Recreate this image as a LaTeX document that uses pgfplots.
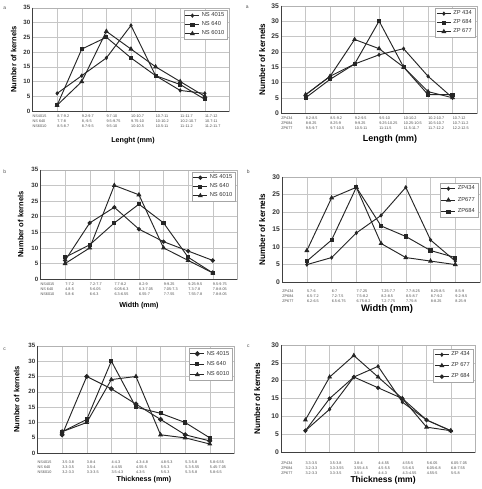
\documentclass[border=0pt]{standalone}
\usepackage{fontspec}
\setmainfont{Liberation Sans}
\usepackage{pgfplots}
\pgfplotsset{compat=1.18}
\definecolor{ln}{HTML}{262626}
\pgfplotsset{
  panel/.style={
    scale only axis, xmin=-1, xmax=7, ymin=0,
    xtick={-1,0,...,6}, ytick distance=5,
    grid=major, grid style={gray!45, line width=0.35pt},
    axis line style={gray!60, line width=0.4pt},
    major tick length=0pt,
    /pgf/number format/assume math mode=true,
    yticklabel style={font=\bfseries\fontsize{6.2}{7}\selectfont, text=black!80, inner xsep=2pt},
    xticklabel style={font=\fontsize{3.8}{4.9}\selectfont, align=left, anchor=north west, inner sep=0pt, yshift=-3.5pt, text=black!70},
    ylabel style={font=\bfseries\fontsize{7.6}{9}\selectfont, anchor=center},
    xlabel style={font=\bfseries\fontsize{7.2}{9}\selectfont, anchor=center},
    ylabel={Number of kernels},
    legend style={at={(1,1)}, anchor=north east, xshift=-2pt, yshift=-2pt, draw=gray!70,
      font=\fontsize{5.8}{6.5}\selectfont, text=black!80, inner sep=1pt, row sep=-0.5pt, line width=0.4pt},
    legend cell align=left,
    legend image code/.code={\draw[mark repeat=2,mark phase=2,##1] plot coordinates {(0pt,0pt)(7pt,0pt)(14pt,0pt)};},
    every axis plot/.append style={color=ln, line width=0.95pt, mark options={solid, fill=ln}},
    after end axis/.code={\draw[black!75, line width=0.6pt] (rel axis cs:0,1) -- (rel axis cs:0,0) -- (rel axis cs:1,0);},
  },
  rp/.style={yticklabel style={font=\bfseries\fontsize{6.8}{7}\selectfont}},
  m1/.style={mark=diamond*, mark size=1.5pt},
  msq/.style={mark=square*, mark size=1.6pt},
  mtr/.style={mark=triangle*, mark size=2pt},
  mci/.style={mark=*, mark size=1.7pt},
}
\begin{document}
\begin{tikzpicture}
\path (0pt,0pt) rectangle (483pt,489pt);
\node[font=\fontsize{5}{6}\selectfont, text=black!70] at (4pt,484pt) {a};
\node[font=\fontsize{5}{6}\selectfont, text=black!70] at (248pt,485pt) {a};
\node[font=\fontsize{5}{6}\selectfont, text=black!70] at (4pt,319pt) {b};
\node[font=\fontsize{5}{6}\selectfont, text=black!70] at (249pt,319pt) {b};
\node[font=\fontsize{5}{6}\selectfont, text=black!70] at (4pt,141pt) {c};
\node[font=\fontsize{5}{6}\selectfont, text=black!70] at (249pt,144pt) {c};

% Panel 1
\begin{axis}[panel, at={(32pt,380pt)}, anchor=south west, width=198pt, height=104pt, ymax=35,
  xlabel={Lenght (mm)},
  xlabel style={at={([xshift=2pt,yshift=-30pt]axis description cs:0.5,0)}},
  ylabel style={at={([xshift=-19pt]axis description cs:0,0.5)}},
  xticklabels={{NS4015\\NS 640\\NS6010},{8.7-9.2\\7.7-8\\8.5-8.7},{9.2-9.7\\8,-9.5\\8.7-9.5},{9.7-10\\9.5-9.75\\9.5-10},{10-10.7\\9.75-10\\10-10.5},{10.7-11\\10-10.2\\10.5-11},{11-11.7\\10.2-10.7\\11-11.2},{11.7-12\\10.7-11\\11.2-11.7}}]
\addplot[m1] coordinates {(0,6)(1,12)(2,18)(3,29)(4,12)(5,7)(6,6)};
\addplot[msq] coordinates {(0,2)(1,21)(2,25)(3,18)(4,12)(5,9)(6,4)};
\addplot[mtr] coordinates {(0,2)(1,10)(2,27)(3,21)(4,15)(5,10)(6,5)};
\legend{NS 4015,NS 640,NS 6010}
\end{axis}

% Panel 2
\begin{axis}[panel, rp, at={(282pt,378pt)}, anchor=south west, width=197pt, height=108pt, ymax=35,
  xlabel={Length (mm)},
  xlabel style={font=\bfseries\fontsize{9}{10}\selectfont, at={([xshift=11pt,yshift=-26pt]axis description cs:0.5,0)}},
  ylabel style={font=\bfseries\fontsize{8.2}{9}\selectfont, at={([xshift=-19pt]axis description cs:0,0.5)}},
  xticklabels={{ZP434\\ZP684\\ZP677},{8.2-8.5\\8-8.25\\9.5-9.7},{8.5-9.2\\8.25-9\\9.7-10.5},{9.2-9.5\\9-9.25\\10.5-11},{9.5-10\\9.25-10.25\\11-11.5},{10-10.2\\10.25-10.5\\11.5-11.7},{10.2-10.7\\10.5-10.7\\11.7-12.2},{10.7-12\\10.7-11.2\\12.2-12.5}}]
\addplot[m1] coordinates {(0,6)(1,12)(2,16)(3,19)(4,21)(5,12)(6,5)};
\addplot[msq] coordinates {(0,5)(1,11)(2,16)(3,30)(4,15)(5,6)(6,6)};
\addplot[mtr] coordinates {(0,6)(1,12)(2,24)(3,21)(4,15)(5,7)(6,5)};
\legend{ZP 434,ZP 684,ZP 677}
\end{axis}

% Panel 3
\begin{axis}[panel, at={(40pt,211pt)}, anchor=south west, width=198pt, height=110pt, ymax=35,
  xlabel={Width (mm)},
  xlabel style={at={([yshift=-27pt]axis description cs:0.5,0)}},
  ylabel style={at={([xshift=-20pt]axis description cs:0,0.5)}},
  xticklabels={{NS4015\\NS 640\\NS6010},{7-7.2\\4.8-5\\5.8-6},{7.2-7.7\\5-6.05\\6-6.3},{7.7-8.2\\6.05-6.3\\6.3-6.55},{8.2-9\\6.3-7.05\\6.55-7},{9-9.25\\7.05-7.3\\7-7.55},{9.25-9.5\\7.3-7.8\\7.55-7.8},{9.5-9.75\\7.8-8.05\\7.8-8.05}}]
\addplot[mci] coordinates {(0,6)(1,18)(2,23)(3,16)(4,12)(5,9)(6,6)};
\addplot[msq] coordinates {(0,7)(1,11)(2,18)(3,24)(4,18)(5,7)(6,2)};
\addplot[mtr] coordinates {(0,5)(1,10)(2,30)(3,27)(4,10)(5,6)(6,2)};
\legend{NS 4015,NS 640,NS 6010}
\end{axis}

% Panel 4
\begin{axis}[panel, rp, at={(283pt,208pt)}, anchor=south west, width=199pt, height=106pt, ymax=30,
  xlabel={Width (mm)},
  xlabel style={font=\bfseries\fontsize{9.5}{10}\selectfont, at={([xshift=6pt,yshift=-27pt]axis description cs:0.5,0)}},
  ylabel style={font=\bfseries\fontsize{8.2}{9}\selectfont, at={([xshift=-20pt]axis description cs:0,0.5)}},
  xticklabel style={yshift=-4.5pt},
  legend style={row sep=2pt, xshift=0pt, yshift=-4pt},
  xticklabels={{ZP434\\ZP684\\ZP677},{5.7-6\\6.5-7.2\\6.2-6.5},{6-7\\7.2-7.5\\6.5-6.75},{7-7.25\\7.5-8.2\\6.75-8.2},{7.25-7.7\\8.2-8.5\\7.2-7.75},{7.7-8.25\\8.5-8.7\\7.75-8},{8.25-8.5\\8.7-9.2\\8-8.25},{8.5-9\\9.2-9.5\\8.25-9}}]
\addplot[m1] coordinates {(0,5)(1,7)(2,14)(3,19)(4,27)(5,12)(6,6)};
\addplot[mtr] coordinates {(0,9)(1,24)(2,27)(3,11)(4,7)(5,6)(6,5)};
\addplot[msq] coordinates {(0,6)(1,12)(2,27)(3,16)(4,13)(5,9)(6,7)};
\legend{ZP434,ZP677,ZP684}
\end{axis}

% Panel 5
\begin{axis}[panel, at={(37pt,36pt)}, anchor=south west, width=198pt, height=108pt, ymax=35,
  xlabel={Thickness (mm)},
  xlabel style={at={([xshift=8pt,yshift=-26.5pt]axis description cs:0.5,0)}},
  ylabel style={at={([xshift=-21pt]axis description cs:0,0.5)}},
  xticklabel style={yshift=-4.5pt},
  legend style={row sep=1pt},
  xticklabels={{NS4015\\NS 640\\NS6010},{3.5-3.8\\3.3-3.5\\3.2-3.3},{3.8-4\\3.5-4\\3.3-3.5},{4-4.3\\4-4.55\\3.5-4.3},{4.3-4.8\\4.55-5\\4.3-5},{4.8-5.3\\5-5.3\\5-5.3},{5.3-5.8\\5.3-5.55\\5.3-5.8},{5.8-6.55\\5.45-7.05\\5.8-6.5}}]
\addplot[mci, mark size=2pt] coordinates {(0,6)(1,25)(2,21)(3,16)(4,11)(5,6)(6,4)};
\addplot[msq] coordinates {(0,7)(1,11)(2,30)(3,15)(4,13)(5,10)(6,5)};
\addplot[mtr] coordinates {(0,7)(1,10)(2,24)(3,25)(4,6)(5,5)(6,3)};
\legend{NS 4015,NS 640,NS 6010}
\end{axis}

% Panel 6
\begin{axis}[panel, rp, at={(282pt,37pt)}, anchor=south west, width=195pt, height=108pt, ymax=30,
  xlabel={Thickness (mm)},
  xlabel style={font=\bfseries\fontsize{8.6}{10}\selectfont, at={([xshift=5pt,yshift=-28pt]axis description cs:0.5,0)}},
  ylabel style={font=\bfseries\fontsize{8.2}{9}\selectfont, at={([xshift=-24pt]axis description cs:0,0.5)}},
  xticklabel style={yshift=-6pt},
  legend style={row sep=1.5pt, yshift=-2pt},
  xticklabels={{ZP434\\ZP684\\ZP677},{3.3-3.5\\3.2-3.3\\3.2-3.3},{3.5-3.8\\3.3-3.55\\3.3-3.5},{3.8-4\\3.55-4.5\\3.5-4},{4-4.55\\4.5-5.5\\4-4.3},{4.55-5\\5.5-6.5\\4.3-4.55},{5-6.05\\6.05-6.8\\4.55-5},{6.05-7.05\\6.8-7.55\\5-5.8}}]
\addplot[m1] coordinates {(0,6)(1,12)(2,21)(3,24)(4,14)(5,9)(6,6)};
\addplot[mtr] coordinates {(0,9)(1,21)(2,27)(3,21)(4,15)(5,7)(6,6)};
\addplot[mci] coordinates {(0,6)(1,15)(2,21)(3,18)(4,15)(5,9)(6,6)};
\legend{ZP 434,ZP 677,ZP 684}
\end{axis}
\end{tikzpicture}
\end{document}
